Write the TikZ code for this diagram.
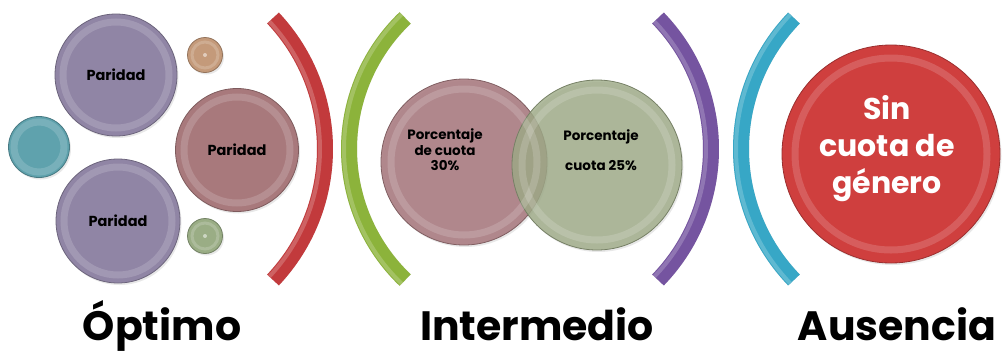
\documentclass[tikz,border=0pt]{standalone}
\usepackage{fontspec}
\setmainfont{Poppins}
\usetikzlibrary{shadows}
\definecolor{lav}{HTML}{9085A5}
\definecolor{rosebr}{HTML}{A8797C}
\definecolor{tealc}{HTML}{5FA2AD}
\definecolor{tanc}{HTML}{C49A7A}
\definecolor{sage}{HTML}{9AAD85}
\definecolor{pinkc}{HTML}{AA7D82}
\definecolor{olivec}{HTML}{9DAA86}
\definecolor{bigred}{HTML}{CF3F3E}
\definecolor{bred}{HTML}{C23A3C}
\definecolor{bgreen}{HTML}{8CB33B}
\definecolor{bpurple}{HTML}{7554A0}
\definecolor{bteal}{HTML}{37A7C6}
\begin{document}
\begin{tikzpicture}[x=1pt,y=-1pt,
  bubble/.style={circle, draw=#1!75!black, line width=0.8pt, fill=#1,
    inner sep=0pt, align=center, text=black,
    font=\bfseries\fontsize{14.5}{16}\selectfont,
    drop shadow={opacity=0.18, shadow xshift=1.5pt, shadow yshift=-2pt}},
  glass/.style={draw=white, line width=7pt, opacity=0.16},
  brk/.style={line width=16pt, draw=#1, line cap=butt},
  brksh/.style={line width=16pt, draw=black, opacity=0.12, line cap=butt},
  brkhl/.style={line width=4pt, draw=#1!55!white, opacity=0.45, line cap=butt},
  title/.style={font=\bfseries\fontsize{41}{44}\selectfont, anchor=base, text=black}]
\useasboundingbox (0,0) rectangle (1004,354);
\fill[white] (0,0) rectangle (1004,354);

% ---- left group ----
\node[bubble=lav, minimum size=122pt] (p1) at (116,75) {Paridad};
\node[bubble=lav, minimum size=124pt] (p3) at (118,221) {Paridad};
\node[bubble=tealc, minimum size=61pt] (t1) at (39,147) {};
\node[bubble=rosebr, minimum size=123pt] (p2) at (237,150) {Paridad};
\node[bubble=tanc, minimum size=35pt] (s1) at (205,55) {};
\node[bubble=sage, minimum size=35pt] (s2) at (205,236) {};
\foreach \n/\r in {p1/53,p3/54,t1/25,p2/53}
  \draw[glass] (\n.center) circle (\r);
\foreach \n in {s1,s2}{
  \draw[white, opacity=0.18, line width=3pt] (\n.center) circle (13);
  \fill[white,opacity=0.5] (\n.center) circle (2);}

% ---- brackets ----
\coordinate (cR) at (134,149);
\coordinate (cG) at (530,149);
\coordinate (cP) at (522.6,149);
\coordinate (cT) at (929.4,149);
\begin{scope}[shift={(2,4)}]
\draw[brksh] (cR) ++(-43.3:191) arc[start angle=-43.3, end angle=43.3, radius=191];
\draw[brksh] (cG) ++(226.4:181) arc[start angle=226.4, end angle=133.6, radius=181];
\draw[brksh] (cP) ++(-44.05:188.4) arc[start angle=-44.05, end angle=44.05, radius=188.4];
\draw[brksh] (cT) ++(224.05:188.4) arc[start angle=224.05, end angle=135.95, radius=188.4];
\end{scope}
\draw[brk=bred] (cR) ++(-43.3:191) arc[start angle=-43.3, end angle=43.3, radius=191];
\draw[brkhl=bred] (cR) ++(-43.3:186) arc[start angle=-43.3, end angle=43.3, radius=186];
\draw[brk=bgreen] (cG) ++(226.4:181) arc[start angle=226.4, end angle=133.6, radius=181];
\draw[brkhl=bgreen] (cG) ++(226.4:186) arc[start angle=226.4, end angle=133.6, radius=186];
\draw[brk=bpurple] (cP) ++(-44.05:188.4) arc[start angle=-44.05, end angle=44.05, radius=188.4];
\draw[brkhl=bpurple] (cP) ++(-44.05:183.4) arc[start angle=-44.05, end angle=44.05, radius=183.4];
\draw[brk=bteal] (cT) ++(224.05:188.4) arc[start angle=224.05, end angle=135.95, radius=188.4];
\draw[brkhl=bteal] (cT) ++(224.05:193.4) arc[start angle=224.05, end angle=135.95, radius=193.4];

% ---- middle group ----
\node[bubble=pinkc, minimum size=166pt, fill opacity=0.9] (m1) at (464,162) {};
\node[bubble=olivec, minimum size=170pt, fill opacity=0.8] (m2) at (597,165) {};
\draw[glass] (m1.center) circle (73);
\draw[glass] (m2.center) circle (75);
\node[font=\bfseries\fontsize{13.5}{15.5}\selectfont, align=center] (m1t) at (445,150) {Porcentaje\\de cuota\\30\%};
\node[font=\bfseries\fontsize{13.5}{15.5}\selectfont, align=center] (m2t) at (601,150) {Porcentaje\\[15pt]cuota 25\%};

% ---- right group ----
\node[bubble=bigred, minimum size=218pt] (r1) at (891,154) {};
\draw[glass] (r1.center) circle (96);
\node[text=white, align=center, font=\bfseries\fontsize{30}{37}\selectfont] (r1t) at (887,149) {Sin\\cuota de\\género};

% ---- titles ----
\node[title] (o) at (162,340) {Óptimo};
\node[title] (i) at (537,340) {Intermedio};
\node[title] (a) at (897,340) {Ausencia};
\end{tikzpicture}
\end{document}
